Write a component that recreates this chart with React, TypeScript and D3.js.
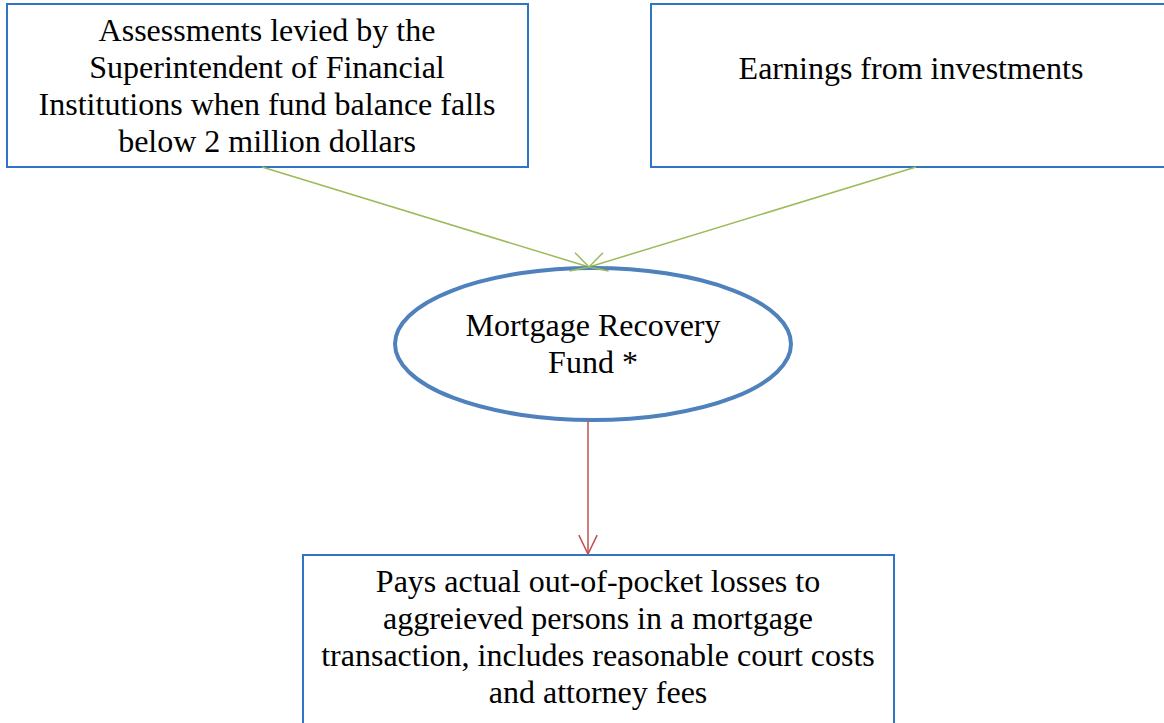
import React from "react";
import * as d3 from "d3";

const sourceLeftLines = [
  "Assessments levied by the",
  "Superintendent of Financial",
  "Institutions when fund balance falls",
  "below 2 million dollars",
];
const sourceRightLines = ["Earnings from investments"];
const fundLines = ["Mortgage Recovery", "Fund *"];
const outcomeLines = [
  "Pays actual out-of-pocket losses to",
  "aggreieved persons in a mortgage",
  "transaction, includes reasonable court costs",
  "and attorney fees",
];

const W = 1164;
const H = 723;
const FONT = "'Liberation Serif', 'Times New Roman', serif";
const FS = 32;
const LH = 37;

const BOX_BLUE = "#2e75c6";
const ELLIPSE_BLUE = "#4f81bd";
const GREEN = "#9bbb59";
const RED = "#c0504d";

function arrowHead(x1: number, y1: number, x2: number, y2: number, len: number, ang: number) {
  const a = Math.atan2(y1 - y2, x1 - x2);
  const p = d3.path();
  p.moveTo(x2 + len * Math.cos(a + ang), y2 + len * Math.sin(a + ang));
  p.lineTo(x2, y2);
  p.lineTo(x2 + len * Math.cos(a - ang), y2 + len * Math.sin(a - ang));
  return p.toString();
}

function Lines({ lines, cx, cy }: { lines: string[]; cx: number; cy: number }) {
  const n = lines.length;
  return (
    <text
      x={cx}
      textAnchor="middle"
      style={{ fontFamily: FONT, fontSize: FS }}
      fill="#000"
    >
      {lines.map((l, i) => (
        <tspan key={i} x={cx} y={cy + (i - (n - 1) / 2) * LH} dy="0.33em">
          {l}
        </tspan>
      ))}
    </text>
  );
}

export default function App() {
  const layout = {
    boxL: { x: 7, y: 4, w: 521, h: 163 },
    boxR: { x: 651, y: 4, w: 530, h: 163 },
    boxB: { x: 303, y: 555, w: 591, h: 190 },
    ell: { cx: 593, cy: 344, rx: 198, ry: 76 },
  };
  const tip = { x: 589, y: 267 };
  const gL = { x1: 262, y1: 167 };
  const gR = { x1: 916, y1: 167 };
  const red = { x: 588, y1: 421, y2: 554 };

  const line = d3.line();

  return (
    <svg
      width={W}
      height={H}
      style={{ position: "absolute", left: 0, top: 0, background: "#fff" }}
    >
      <rect x={0} y={0} width={W} height={H} fill="#fff" />
      {[layout.boxL, layout.boxR, layout.boxB].map((b, i) => (
        <rect
          key={i}
          x={b.x}
          y={b.y}
          width={b.w}
          height={b.h}
          fill="#fff"
          stroke={BOX_BLUE}
          strokeWidth={2}
        />
      ))}
      <path
        d={line([[gL.x1, gL.y1], [tip.x, tip.y]]) || ""}
        stroke={GREEN}
        strokeWidth={1.5}
        fill="none"
      />
      <path
        d={line([[gR.x1, gR.y1], [tip.x, tip.y]]) || ""}
        stroke={GREEN}
        strokeWidth={1.5}
        fill="none"
      />
      <ellipse
        cx={layout.ell.cx}
        cy={layout.ell.cy}
        rx={layout.ell.rx}
        ry={layout.ell.ry}
        fill="#fff"
        stroke={ELLIPSE_BLUE}
        strokeWidth={4}
      />
      <path
        d={arrowHead(gL.x1, gL.y1, tip.x, tip.y, 20, 0.5)}
        stroke={GREEN}
        strokeWidth={1.5}
        fill="none"
      />
      <path
        d={arrowHead(gR.x1, gR.y1, tip.x, tip.y, 20, 0.5)}
        stroke={GREEN}
        strokeWidth={1.5}
        fill="none"
      />
      <path
        d={line([[red.x, red.y1], [red.x, red.y2]]) || ""}
        stroke={RED}
        strokeWidth={1.5}
        fill="none"
      />
      <path
        d={arrowHead(red.x, red.y1, red.x, red.y2, 21, 0.45)}
        stroke={RED}
        strokeWidth={1.5}
        fill="none"
      />
      <Lines lines={sourceLeftLines} cx={267} cy={86} />
      <Lines lines={sourceRightLines} cx={911} cy={68} />
      <Lines lines={fundLines} cx={593} cy={344} />
      <Lines lines={outcomeLines} cx={598} cy={637} />
    </svg>
  );
}
